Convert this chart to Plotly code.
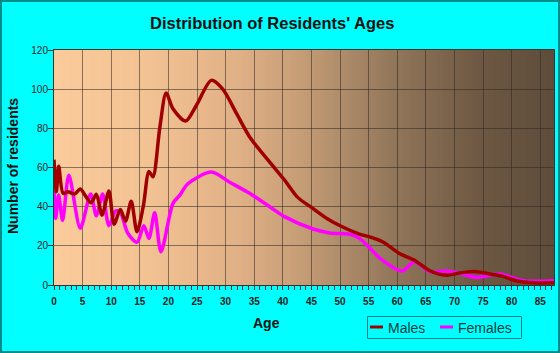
import plotly.graph_objects as go

# ---- data ----
ages_m = [0, 0.42, 0.82, 1.6, 2.45, 3.6, 4.6, 5.5, 6.5, 7.4, 8.4, 9.6, 10.5, 11.6,
          12.5, 13.5, 14.5, 15.6, 16.6, 17.3, 18.5, 19.6, 20.8, 23.0, 24.9, 27.5,
          29.5, 31.9, 34.2, 37.5, 40.3, 42.5, 45.3, 47.7, 50.2, 53.4, 55.2, 57.5,
          60.3, 63.2, 65.6, 68.6, 71.0, 73.5, 76.7, 78.5, 80.8, 84.0, 87.4]
males = [64, 47.6, 60.7, 46.8, 47.6, 46.4, 49, 45.5, 42, 46.3, 35.7, 48, 31, 38.6,
         32.6, 42.8, 27.2, 40, 58, 55.3, 80.5, 98, 90, 83.7, 91.8, 104.5,
         100, 87.6, 75.6, 63.5, 53.6, 45, 39, 34, 30, 26, 24.6, 22,
         16.2, 12.3, 7.4, 5.0, 6.2, 6.9, 5.4, 4.4, 2.2, 1.1, 1.3]

ages_f = [0, 0.3, 0.8, 1.5, 2.6, 4.6, 6.4, 7.4, 8.5, 9.6, 10.8, 11.6, 12.9, 14.5,
          15.7, 16.6, 17.6, 18.7, 20.8, 22.0, 23.4, 27.5, 30.7, 34.2, 37.7, 40.3,
          45.3, 48.2, 51.7, 53.4, 55.5, 57.0, 60.8, 63.0, 65.7, 68.6, 70.9, 73.8,
          77.9, 82.0, 87.4]
females = [50, 34, 46, 33, 56, 29, 46.5, 35.3, 46.5, 30.3, 37.8, 37, 26.4, 21.8,
           30.3, 23.8, 36.9, 17, 41.7, 45.9, 51.7, 57.7, 52.5, 46.8, 40, 34.9,
           28.6, 26.6, 25.9, 23.8, 18, 13.6, 7.2, 11.9, 6.8, 7.2, 6, 3.9,
           5.6, 2.2, 2.2]

x_ticks = list(range(0, 90, 5))
y_ticks = [0, 20, 40, 60, 80, 100, 120]

# ---- layout geometry (pixels) ----
W, H = 560, 353
ML, MR, MT, MB = 54, 6, 50, 68
PW, PH = W - ML - MR, H - MT - MB


def px_x(p):
    return (p - ML) / PW


def px_y(p):
    return (H - MB - p) / PH


fig = go.Figure()
fig.add_trace(go.Scatter(x=ages_f, y=females, mode="lines", name="Females",
                         showlegend=False, hoverinfo="skip",
                         line=dict(color="#FF00FF", width=3.5, shape="spline", smoothing=0.8)))
fig.add_trace(go.Scatter(x=ages_m, y=males, mode="lines", name="Males",
                         showlegend=False, hoverinfo="skip",
                         line=dict(color="#A00000", width=3.5, shape="spline", smoothing=0.8)))

# ---- gradient plot background ----
stops = [(0.0, (251, 203, 155)), (0.19, (243, 194, 147)), (0.37, (224, 176, 134)),
         (0.5, (196, 156, 117)), (0.67, (148, 120, 92)), (0.85, (110, 88, 67)),
         (1.0, (94, 76, 59))]


def grad(f):
    for (a, ca), (b, cb) in zip(stops[:-1], stops[1:]):
        if a <= f <= b:
            t = (f - a) / (b - a)
            return "rgb(%d,%d,%d)" % tuple(round(ca[i] + (cb[i] - ca[i]) * t) for i in range(3))
    return "rgb(%d,%d,%d)" % stops[-1][1]


shapes = []
N = 250
for i in range(N):
    f0 = i / N
    f1 = (i + 1.6) / N
    shapes.append(dict(type="rect", xref="paper", yref="paper", x0=f0, x1=min(f1, 1.0),
                       y0=0, y1=1, layer="below", line=dict(width=0),
                       fillcolor=grad((i + 0.5) / N)))

# figure border
shapes.append(dict(type="rect", xref="paper", yref="paper",
                   x0=px_x(1), x1=px_x(W - 1), y0=px_y(H - 1), y1=px_y(1),
                   line=dict(color="#008B8B", width=2), layer="above"))

# legend box
shapes.append(dict(type="rect", xref="paper", yref="paper",
                   x0=px_x(367.5), x1=px_x(521.5), y0=px_y(338.5), y1=px_y(316.5),
                   line=dict(color="#008080", width=1), layer="above"))
shapes.append(dict(type="line", xref="paper", yref="paper",
                   x0=px_x(370), x1=px_x(383), y0=px_y(327), y1=px_y(327),
                   line=dict(color="#A00000", width=3), layer="above"))
shapes.append(dict(type="line", xref="paper", yref="paper",
                   x0=px_x(440), x1=px_x(453), y0=px_y(327), y1=px_y(327),
                   line=dict(color="#FF00FF", width=3), layer="above"))

font_fam = "Arial, Liberation Sans, sans-serif"
annotations = [
    dict(text="<b>Distribution of Residents' Ages</b>", xref="paper", yref="paper",
         x=px_x(272.4), y=px_y(22.5), xanchor="center", yanchor="middle", showarrow=False,
         font=dict(family=font_fam, size=16.5, color="#111111")),
    dict(text="<b>Number of residents</b>", xref="paper", yref="paper",
         x=px_x(12.5), y=px_y(166.5), xanchor="center", yanchor="middle", showarrow=False,
         textangle=-90, font=dict(family=font_fam, size=14, color="#111111")),
    dict(text="<b>Age</b>", xref="paper", yref="paper",
         x=px_x(266.3), y=px_y(323), xanchor="center", yanchor="middle", showarrow=False,
         font=dict(family=font_fam, size=14, color="#111111")),
    dict(text="Males", xref="paper", yref="paper",
         x=px_x(385.5), y=px_y(327.5), xanchor="left", yanchor="middle", showarrow=False,
         font=dict(family=font_fam, size=14, color="#0B3B3B")),
    dict(text="Females", xref="paper", yref="paper",
         x=px_x(456), y=px_y(327.5), xanchor="left", yanchor="middle", showarrow=False,
         font=dict(family=font_fam, size=14, color="#0B3B3B")),
]

fig.update_layout(
    width=W, height=H,
    margin=dict(l=ML, r=MR, t=MT, b=MB, pad=0),
    paper_bgcolor="#00FFFF",
    plot_bgcolor="#FBCB9B",
    showlegend=False,
    shapes=shapes,
    annotations=annotations,
    xaxis=dict(range=[0, 87.4], tickvals=x_ticks, ticktext=[str(v) for v in x_ticks],
               ticks="outside", ticklen=4, tickcolor="#333333", tickwidth=1,
               minor=dict(dtick=1, tick0=0, ticks="outside", ticklen=4, tickcolor="#333333",
                          showgrid=False),
               showgrid=True, gridcolor="rgba(45,40,35,0.55)", gridwidth=1,
               showline=True, linecolor="#333333", linewidth=1, mirror=True,
               zeroline=False, fixedrange=True, ticklabelstandoff=3,
               tickfont=dict(family=font_fam, size=10, color="#222222", weight="bold")),
    yaxis=dict(range=[0, 120], tickvals=y_ticks,
               ticks="outside", ticklen=5, tickcolor="#333333", tickwidth=1,
               showgrid=True, gridcolor="rgba(45,40,35,0.55)", gridwidth=1,
               showline=True, linecolor="#333333", linewidth=1, mirror=True,
               zeroline=False, fixedrange=True, ticklabelstandoff=-2,
               tickfont=dict(family=font_fam, size=10, color="#222222")),
)

fig.write_html("out.html")
